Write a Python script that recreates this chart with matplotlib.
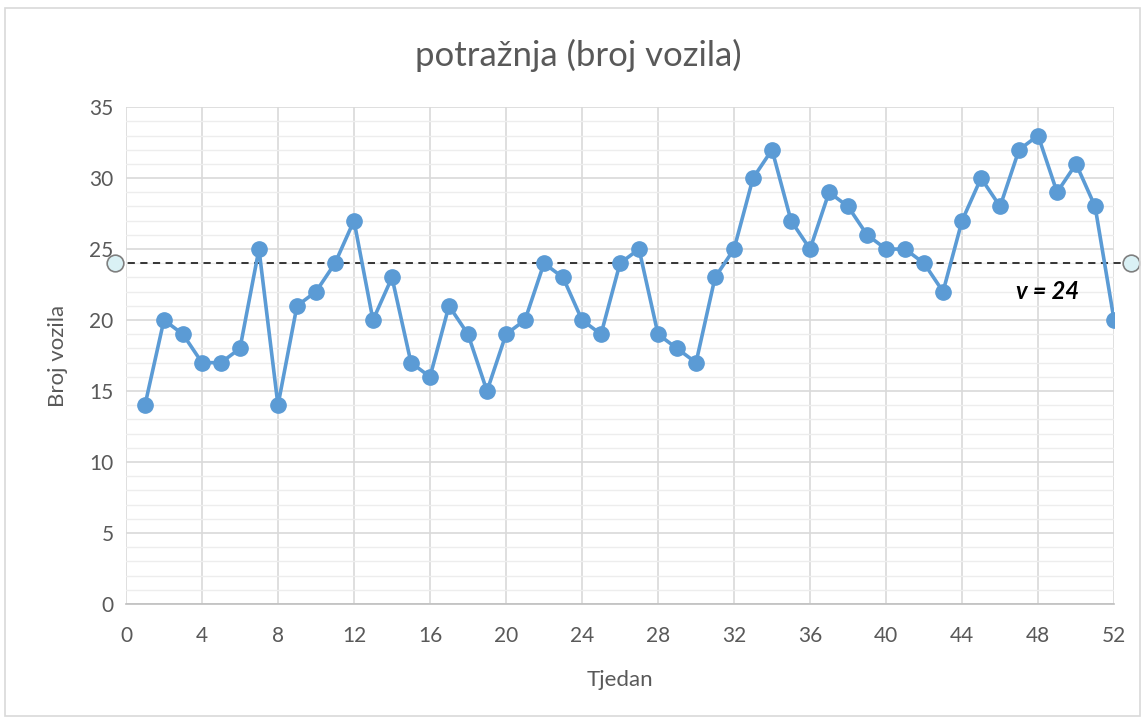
import matplotlib.pyplot as plt
from matplotlib.ticker import MultipleLocator
from matplotlib.patches import Rectangle

# weekly demand (number of vehicles)
weeks = list(range(1, 53))
demand = [14, 20, 19, 17, 17, 18, 25, 14, 21, 22,
          24, 27, 20, 23, 17, 16, 21, 19, 15, 19,
          20, 24, 23, 20, 19, 24, 25, 19, 18, 17,
          23, 25, 30, 32, 27, 25, 29, 28, 26, 25,
          25, 24, 22, 27, 30, 28, 32, 33, 29, 31,
          28, 20]
level = 24
level_x = [-0.6, 52.9]

plt.rcParams['font.family'] = ['Lato', 'DejaVu Sans']
txt = '#595959'
blue = '#5B9BD5'

fig = plt.figure(figsize=(11.45, 7.19), dpi=100)
fig.patches.append(Rectangle((0.004, 0.004), 0.992, 0.985, transform=fig.transFigure,
                             fill=False, edgecolor='#D9D9D9', lw=1.2))
ax = fig.add_axes([0.110, 0.160, 0.863, 0.691])

ax.plot(weeks, demand, color=blue, lw=2.6, marker='o', ms=11, zorder=3)
ax.plot(level_x, [level, level], color='#262626', lw=1.3, ls=(0, (4, 3)),
        clip_on=False, zorder=2)
ax.plot(level_x, [level, level], ls='none', marker='o', ms=12, mfc='#DAF1F5',
        mec='#7F7F7F', mew=1.2, clip_on=False, zorder=4)
ax.text(48.5, 22.0, 'v = 24', fontsize=17, fontweight='bold', fontstyle='italic',
        color='black', ha='center', va='center')

ax.set_xlim(0, 52)
ax.set_ylim(0, 35)
ax.xaxis.set_major_locator(MultipleLocator(4))
ax.yaxis.set_major_locator(MultipleLocator(5))
ax.yaxis.set_minor_locator(MultipleLocator(1))
ax.grid(which='major', color='#D9D9D9', lw=1.2)
ax.grid(which='minor', axis='y', color='#EDEDED', lw=1.0)
ax.set_axisbelow(True)
for s in ['top', 'right', 'left']:
    ax.spines[s].set_visible(False)
ax.spines['bottom'].set_color('#BFBFBF')
ax.spines['bottom'].set_linewidth(1.2)
ax.tick_params(length=0, labelsize=15, colors=txt)
ax.tick_params(axis='x', pad=16)
ax.tick_params(axis='y', pad=9)
ax.tick_params(axis='y', which='minor', length=0)

fig.text(0.505, 0.923, 'potražnja (broj vozila)', fontsize=25, color=txt,
         ha='center', va='center')
ax.set_xlabel('Tjedan', fontsize=16, color=txt, labelpad=17)
ax.set_ylabel('Broj vozila', fontsize=16, color=txt, labelpad=15)

fig.savefig('out.png', dpi=100, facecolor='white')
